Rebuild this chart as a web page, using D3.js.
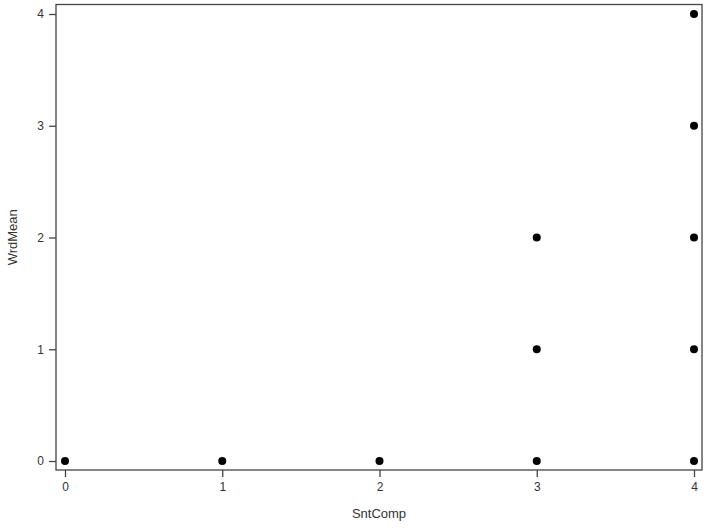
<!DOCTYPE html>
<html><head><meta charset="utf-8">
<script src="https://cdn.jsdelivr.net/npm/d3@7"></script>
<style>body{margin:0;background:#fff}svg{display:block}</style>
</head><body><svg id="c" width="709" height="528"></svg>
<script>
const sntComp = [0, 1, 2, 3, 3, 3, 4, 4, 4, 4, 4];
const wrdMean = [0, 0, 0, 0, 1, 2, 0, 1, 2, 3, 4];
const xTicks = [0, 1, 2, 3, 4];
const yTicks = [0, 1, 2, 3, 4];

const svg = d3.select("#c");
const frame = {l: 56, t: 4.5, r: 702, b: 470};
const x = d3.scaleLinear().domain([0, 4]).range([65, 694]);
const y = d3.scaleLinear().domain([0, 4]).range([461, 14]);
const txt = "#333";
const font = "Liberation Sans, Arial, sans-serif";

svg.append("rect").attr("x", frame.l).attr("y", frame.t)
  .attr("width", frame.r - frame.l).attr("height", frame.b - frame.t)
  .attr("fill", "#fff").attr("stroke", "#444").attr("stroke-width", 1.3);

const xa = svg.append("g").attr("transform", `translate(0,${frame.b})`)
  .call(d3.axisBottom(x).tickValues(xTicks).tickFormat(d3.format("d")).tickSize(7).tickPadding(5));
const ya = svg.append("g").attr("transform", `translate(${frame.l},0)`)
  .call(d3.axisLeft(y).tickValues(yTicks).tickFormat(d3.format("d")).tickSize(7).tickPadding(5));
[xa, ya].forEach(a => {
  a.select(".domain").remove();
  a.selectAll("line").attr("stroke", "#444").attr("stroke-width", 1.3);
  a.selectAll("text").attr("fill", txt).style("font-family", font).style("font-size", "12px");
});

svg.append("text").attr("x", 379).attr("y", 518).attr("text-anchor", "middle")
  .attr("fill", txt).style("font-family", font).style("font-size", "13px").text("SntComp");
svg.append("text").attr("transform", `translate(17,${(frame.t + frame.b) / 2}) rotate(-90)`)
  .attr("text-anchor", "middle").attr("fill", txt)
  .style("font-family", font).style("font-size", "13px").text("WrdMean");

svg.append("g").selectAll("circle").data(sntComp.map((s, i) => [s, wrdMean[i]])).join("circle")
  .attr("cx", d => x(d[0])).attr("cy", d => y(d[1])).attr("r", 4).attr("fill", "#000");
</script></body></html>
